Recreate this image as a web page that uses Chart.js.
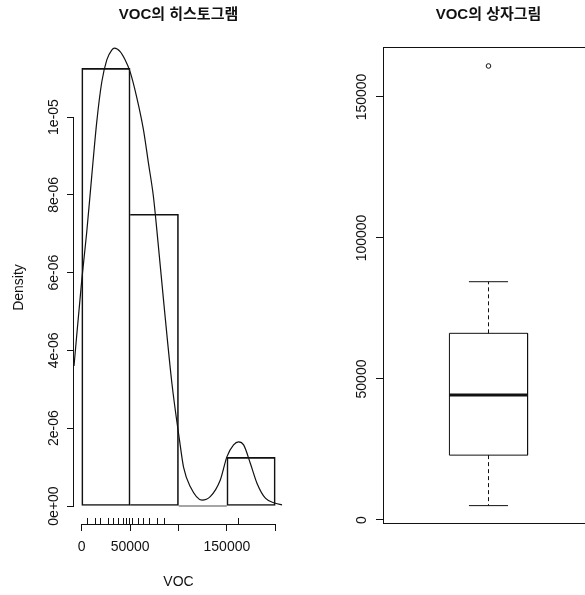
<!DOCTYPE html>
<html>
<head>
<meta charset="utf-8">
<script src="https://cdn.jsdelivr.net/npm/chart.js@4"></script>
<style>
  html, body { margin: 0; padding: 0; background: #fff; overflow: hidden; }
  #wrap { position: relative; width: 585px; height: 595px; overflow: hidden; }
  #histWrap { position: absolute; left: 0; top: 0; }
  #boxWrap { position: absolute; left: 300px; top: 0; }
</style>
</head>
<body>
<div id="wrap">
  <div id="histWrap"><canvas id="histChart" width="300" height="595"></canvas></div>
  <div id="boxWrap"><canvas id="boxChart" width="310" height="595"></canvas></div>
</div>
<script>
// VOC values
const voc = [5100, 13800, 18900, 26800, 32600, 37800, 43000, 45600, 49200,
             51700, 57900, 63700, 69000, 77600, 84500, 161000];

// histogram bins (mid points) and densities
const binMids = [25000, 75000, 125000, 175000];
const binDensity = [1.125e-5, 7.5e-6, 0, 1.25e-6];

// density curve
const curveX = [-8000, 0, 5200, 10400, 15500, 20700, 25900, 31000, 33800, 39700, 44800,
                50000, 56900, 63800, 68900, 74100, 77600, 84500, 93200, 101000, 105200,
                112100, 124200, 132800, 143200, 150100, 156900, 162100, 167300, 174200,
                181200, 189800, 200100, 207000];
const curveY = [3.6e-6, 5.8e-6, 7.05e-6, 8.5e-6, 9.87e-6, 10.9e-6, 11.47e-6, 11.72e-6, 11.77e-6, 11.68e-6, 11.47e-6,
                11.16e-6, 10.5e-6, 9.67e-6, 8.82e-6, 7.95e-6, 7.1e-6, 5.3e-6, 3.15e-6, 1.7e-6, 1.0e-6,
                0.5e-6, 0.15e-6, 0.24e-6, 0.67e-6, 1.27e-6, 1.57e-6, 1.65e-6, 1.57e-6, 1.1e-6,
                0.58e-6, 0.2e-6, 0.07e-6, 0.03e-6];

const densityTicks = [0, 2e-6, 4e-6, 6e-6, 8e-6, 1e-5];
const densityTickLabels = ['0e+00', '2e-06', '4e-06', '6e-06', '8e-06', '1e-05'];
const vocTicks = [0, 50000, 100000, 150000, 200000];
const vocTickLabels = ['0', '50000', '', '150000', ''];

// boxplot: lower whisker, Q1, median, Q3, upper whisker
const boxStats = [5100, 23000, 44300, 66200, 84500];
const boxOutliers = [161000];
const boxTicks = [0, 50000, 100000, 150000];
const boxTickLabels = ['0', '50000', '100000', '150000'];

const INK = '#111';
const FONT = "'Liberation Sans', Arial, 'Noto Sans CJK KR', sans-serif";
const TICK_FONT = { size: 14, family: FONT };
const TITLE_FONT = { size: 15, weight: 'bold', family: FONT };

// centre of rotated y labels: move them next to the tick
function widest(labels) {
    const c = document.createElement('canvas').getContext('2d');
    c.font = 'normal 14px ' + FONT;
    return Math.max(...labels.map(l => c.measureText(l).width));
}

const histAxes = {
    id: 'histAxes',
    afterDraw(chart) {
        const { ctx, chartArea, scales: { x, y } } = chart;
        ctx.save();
        ctx.strokeStyle = INK;
        ctx.lineWidth = 1;
        ctx.beginPath();
        const ax = Math.round(chartArea.left) - 0.5;
        ctx.moveTo(ax, y.getPixelForValue(densityTicks[0]));
        ctx.lineTo(ax, y.getPixelForValue(densityTicks[densityTicks.length - 1]));
        const ay = Math.round(chartArea.bottom) + 0.5;
        ctx.moveTo(x.getPixelForValue(vocTicks[0]), ay);
        ctx.lineTo(x.getPixelForValue(vocTicks[vocTicks.length - 1]), ay);
        voc.forEach(v => {
            const px = Math.round(x.getPixelForValue(v)) + 0.5;
            ctx.moveTo(px, chartArea.bottom);
            ctx.lineTo(px, chartArea.bottom - 6);
        });
        ctx.stroke();
        ctx.restore();
    }
};

const boxFrame = {
    id: 'boxFrame',
    afterDraw(chart) {
        const { ctx, chartArea } = chart;
        ctx.save();
        ctx.strokeStyle = INK;
        ctx.lineWidth = 1;
        ctx.strokeRect(Math.round(chartArea.left) + 0.5, Math.round(chartArea.top) + 0.5,
            chartArea.right - chartArea.left, Math.round(chartArea.bottom - chartArea.top));
        ctx.restore();
    }
};

// only draw a shared bar edge once
function barBorder(ctx) {
    const i = ctx.dataIndex;
    return {
        top: 1, bottom: 1,
        left: (i === 0 || binDensity[i - 1] < binDensity[i]) ? 1 : 0,
        right: (i === binDensity.length - 1 || binDensity[i + 1] < binDensity[i]) ? 1 : 0
    };
}

new Chart(document.getElementById('histChart'), {
    type: 'scatter',
    data: {
        datasets: [{
            type: 'bar',
            data: binMids.map((m, i) => ({ x: m, y: binDensity[i] })),
            backgroundColor: 'rgba(0,0,0,0)',
            borderColor: INK,
            borderWidth: barBorder,
            borderSkipped: false,
            barPercentage: 1,
            categoryPercentage: 1,
            minBarLength: 1
        }, {
            type: 'line',
            data: curveX.map((v, i) => ({ x: v, y: curveY[i] })),
            showLine: true,
            borderColor: INK,
            borderWidth: 1.2,
            pointRadius: 0,
            cubicInterpolationMode: 'monotone',
            clip: false
        }]
    },
    options: {
        responsive: false,
        animation: false,
        events: [],
        layout: { padding: { left: 0, right: 17, top: 0, bottom: 0 } },
        plugins: {
            legend: { display: false },
            tooltip: { enabled: false },
            title: {
                display: true, fullSize: false,
                text: 'VOC의 히스토그램',
                color: INK, font: TITLE_FONT,
                padding: { top: 6, bottom: 27 }
            }
        },
        scales: {
            x: {
                type: 'linear', min: -8000, max: 208000, offset: false,
                afterBuildTicks: s => { s.ticks = vocTicks.map(v => ({ value: v })); },
                afterFit: s => { s.height = 71; s.paddingLeft = 0; s.paddingRight = 0; },
                ticks: {
                    autoSkip: false, minRotation: 0, maxRotation: 0, padding: 8,
                    font: TICK_FONT, color: INK,
                    callback: (v, i) => vocTickLabels[i]
                },
                grid: { drawOnChartArea: false, tickLength: 7, color: INK, offset: false },
                border: { display: false },
                title: { display: true, text: 'VOC', color: INK, font: TICK_FONT, padding: { top: 0, bottom: 4.6 } }
            },
            y: {
                type: 'linear', min: -0.4627e-6, max: 11.697e-6,
                afterBuildTicks: s => { s.ticks = densityTicks.map(v => ({ value: v })); },
                afterFit: s => { s.width = 74; s.paddingTop = 0; s.paddingBottom = 0; },
                ticks: {
                    autoSkip: false, minRotation: 90, maxRotation: 90, crossAlign: 'center',
                    padding: 13 - widest(densityTickLabels) / 2,
                    font: TICK_FONT, color: INK,
                    callback: (v, i) => densityTickLabels[i]
                },
                grid: { drawOnChartArea: false, tickLength: 7, color: INK },
                border: { display: false },
                title: { display: true, text: 'Density', color: INK, font: TICK_FONT, padding: { top: 10.6, bottom: 0 } }
            }
        }
    },
    plugins: [histAxes]
});

// boxplot drawn with line segments on a linear x scale
const BOX_HALF = 0.2;
const CAP_HALF = 0.1;
const [lo, q1, med, q3, hi] = boxStats;
const seg = (pts, extra) => Object.assign({
    type: 'line',
    data: pts.map(p => ({ x: p[0], y: p[1] })),
    showLine: true, borderColor: INK, borderWidth: 1, pointRadius: 0, tension: 0
}, extra || {});

new Chart(document.getElementById('boxChart'), {
    type: 'scatter',
    data: {
        datasets: [
            seg([[1 - BOX_HALF, q1], [1 - BOX_HALF, q3], [1 + BOX_HALF, q3], [1 + BOX_HALF, q1], [1 - BOX_HALF, q1]]),
            seg([[1 - BOX_HALF, med], [1 + BOX_HALF, med]], { borderWidth: 3 }),
            seg([[1, q3], [1, hi]], { borderDash: [4, 3] }),
            seg([[1, q1], [1, lo]], { borderDash: [4, 3] }),
            seg([[1 - CAP_HALF, hi], [1 + CAP_HALF, hi]]),
            seg([[1 - CAP_HALF, lo], [1 + CAP_HALF, lo]]),
            {
                type: 'scatter',
                data: boxOutliers.map(v => ({ x: 1, y: v })),
                pointRadius: 2.3, borderWidth: 1, borderColor: INK, backgroundColor: '#fff'
            }
        ]
    },
    options: {
        responsive: false,
        animation: false,
        events: [],
        layout: { padding: { left: 0, right: 16, top: 0, bottom: 72 } },
        plugins: {
            legend: { display: false },
            tooltip: { enabled: false },
            title: {
                display: true, fullSize: false,
                text: 'VOC의 상자그림',
                color: INK, font: TITLE_FONT,
                padding: { top: 6, bottom: 23 }
            }
        },
        scales: {
            x: { type: 'linear', min: 0.46, max: 1.54, display: false },
            y: {
                type: 'linear', min: -1064, max: 167730,
                afterBuildTicks: s => { s.ticks = boxTicks.map(v => ({ value: v })); },
                afterFit: s => { s.width = 83; s.paddingTop = 0; s.paddingBottom = 0; },
                ticks: {
                    autoSkip: false, minRotation: 90, maxRotation: 90, crossAlign: 'center',
                    padding: 14.3 - widest(boxTickLabels) / 2,
                    font: TICK_FONT, color: INK,
                    callback: (v, i) => boxTickLabels[i]
                },
                grid: { drawOnChartArea: false, tickLength: 7, color: INK },
                border: { display: false }
            }
        }
    },
    plugins: [boxFrame]
});
</script>
</body>
</html>
